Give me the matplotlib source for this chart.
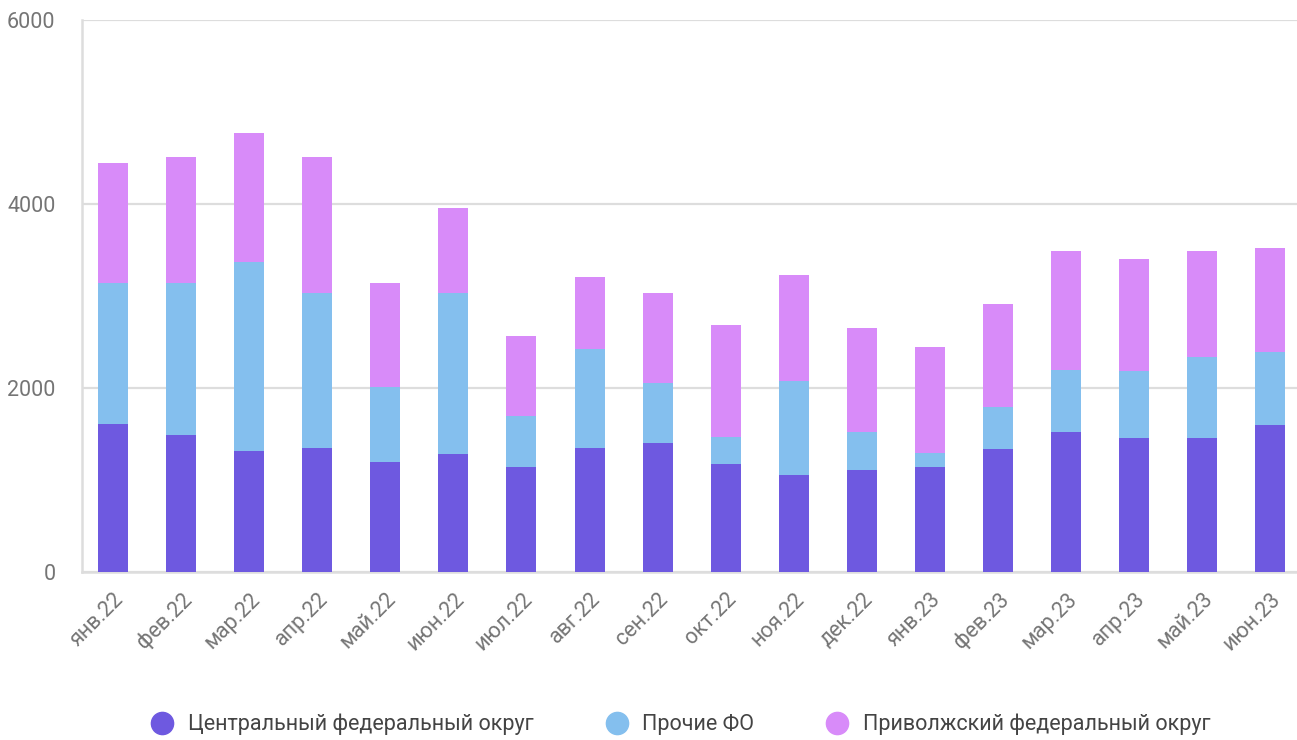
import numpy as np
import matplotlib.pyplot as plt
from matplotlib.lines import Line2D

plt.rcParams['font.family'] = ['Roboto', 'DejaVu Sans']

months = ["янв.22", "фев.22", "мар.22", "апр.22", "май.22", "июн.22", "июл.22", "авг.22", "сен.22",
          "окт.22", "ноя.22", "дек.22", "янв.23", "фев.23", "мар.23", "апр.23", "май.23", "июн.23"]
central = [1609, 1489, 1315, 1348, 1196, 1283, 1141, 1348, 1402, 1174, 1054, 1109, 1141, 1337, 1522, 1457, 1457, 1598]
other = [1532, 1652, 2055, 1685, 815, 1750, 555, 1076, 652, 293, 1022, 413, 152, 456, 674, 728, 877, 793]
volga = [1305, 1370, 1402, 1478, 1130, 924, 869, 783, 979, 1218, 1152, 1130, 1153, 1120, 1293, 1217, 1159, 1131]

names = ["Центральный федеральный округ", "Прочие ФО", "Приволжский федеральный округ"]
colors = ["#6E59E0", "#84BFEE", "#D88BF9"]

central = np.array(central)
other = np.array(other)
volga = np.array(volga)
x = np.arange(len(months))

fig = plt.figure(figsize=(12.97, 7.40), dpi=100)
ax = fig.add_axes([0.0632, 0.227, 0.9368, 0.746])

w = 0.44
ax.bar(x, central, width=w, color=colors[0], zorder=3)
ax.bar(x, other, width=w, bottom=central, color=colors[1], zorder=3)
ax.bar(x, volga, width=w, bottom=central + other, color=colors[2], zorder=3)

ax.set_ylim(0, 6000)
ax.set_xlim(-0.455, 17.39)
ax.set_yticks([0, 2000, 4000, 6000])
ax.grid(axis='y', color='#DDDDDD', linewidth=1.6, zorder=0)
ax.set_axisbelow(True)
for s in ['top', 'right']:
    ax.spines[s].set_visible(False)
for s in ['left', 'bottom']:
    ax.spines[s].set_color('#DDDDDD')
    ax.spines[s].set_linewidth(1.8)
ax.tick_params(axis='both', length=0, labelsize=15.5, labelcolor='#757575')
ax.tick_params(axis='y', pad=19)
ax.tick_params(axis='x', pad=12)
ax.set_xticks(x)
ax.set_xticklabels(months, rotation=45, ha='right', rotation_mode='anchor')

handles = [Line2D([0], [0], marker='o', linestyle='', markersize=16, markerfacecolor=c, markeredgecolor=c)
           for c in colors]
fig.legend(handles, names, loc='lower center', bbox_to_anchor=(0.521, -0.02), ncol=3, frameon=False,
           fontsize=15.5, labelcolor='#444444', handletextpad=0.2, columnspacing=2.85)

fig.savefig("out.png", dpi=100)
